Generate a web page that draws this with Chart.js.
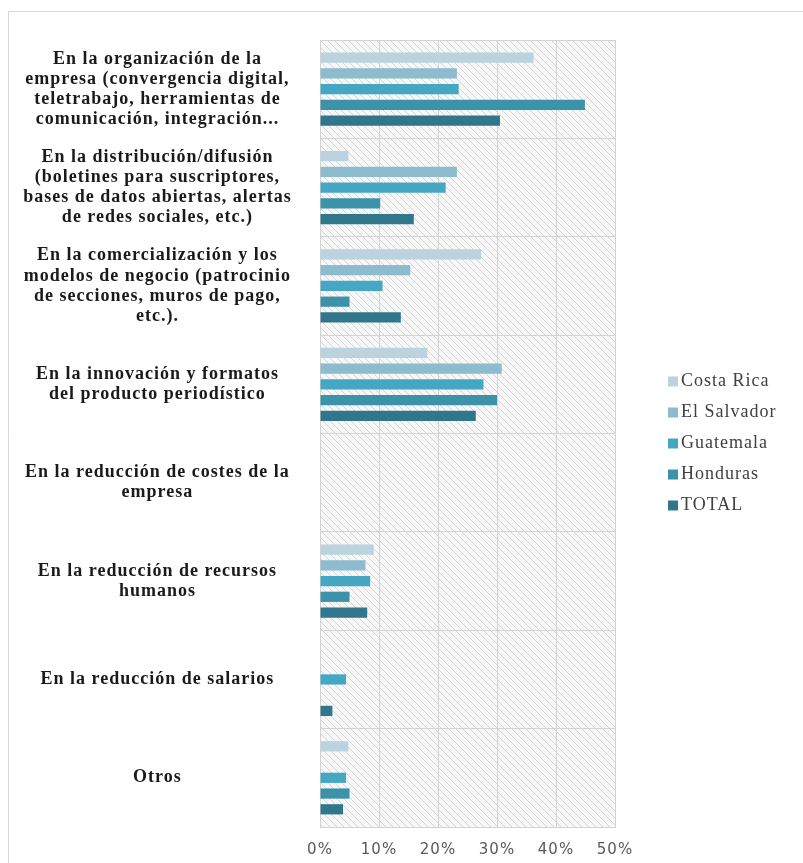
<!DOCTYPE html>
<html lang="es">
<head>
<meta charset="utf-8">
<title>Cambios en la empresa</title>
<script src="https://cdn.jsdelivr.net/npm/chart.js@4/dist/chart.umd.min.js"></script>
<style>
body{margin:0;background:#fff;}
canvas{display:block;}
</style>
</head>
<body>
<canvas id="barChart" width="803" height="863"></canvas>
<script>
// ----------------------------
// Datos
// ----------------------------

const categorias = [
    ["En la organización de la", "empresa (convergencia digital,", "teletrabajo, herramientas de", "comunicación, integración..."],
    ["En la distribución/difusión", "(boletines para suscriptores,", "bases de datos abiertas, alertas", "de redes sociales, etc.)"],
    ["En la comercialización y los", "modelos de negocio (patrocinio", "de secciones, muros de pago,", "etc.)."],
    ["En la innovación y formatos", "del producto periodístico"],
    ["En la reducción de costes de la", "empresa"],
    ["En la reducción de recursos", "humanos"],
    ["En la reducción de salarios"],
    ["Otros"]
];

const paises = ["Costa Rica", "El Salvador", "Guatemala", "Honduras", "TOTAL"];

const costaRica  = [36.2, 4.8, 27.3, 18.2, null, 9.1, null, 4.8];
const elSalvador = [23.2, 23.2, 15.3, 30.8, null, 7.7, null, null];
const guatemala  = [23.5, 21.3, 10.6, 27.7, null, 8.5, 4.4, 4.4];
const honduras   = [44.9, 10.2, 5.0, 30.0, null, 5.0, null, 5.0];
const total      = [30.5, 15.9, 13.7, 26.4, null, 8.0, 2.1, 3.9];

const ticksX = ["0%", "10%", "20%", "30%", "40%", "50%"];

const colores = ["#bad3de", "#8dbccf", "#46a7c4", "#3b92a9", "#30778b"];

const series = [costaRica, elSalvador, guatemala, honduras, total];

// ----------------------------
// Fondo rayado
// ----------------------------

function rayado(ctx){

    const s = 7;
    const c = document.createElement("canvas");
    c.width = s;
    c.height = s;
    const p = c.getContext("2d");
    p.fillStyle = "#f7f7f7";
    p.fillRect(0, 0, s, s);
    p.strokeStyle = "#d6d6d6";
    p.lineWidth = 1;
    p.beginPath();
    for (const x0 of [-s, 0, s]) {
        p.moveTo(x0, 0);
        p.lineTo(x0 + s, s);
    }
    p.stroke();
    return ctx.createPattern(c, "repeat");

}

const fondo = {
    id: "fondo",
    beforeDraw(chart){
        const {ctx, chartArea: a} = chart;
        ctx.save();
        // marco exterior
        ctx.strokeStyle = "#d9d9d9";
        ctx.lineWidth = 1;
        ctx.beginPath();
        ctx.moveTo(8.5, chart.height);
        ctx.lineTo(8.5, 11.5);
        ctx.lineTo(chart.width, 11.5);
        ctx.stroke();
        ctx.fillStyle = rayado(ctx);
        ctx.fillRect(a.left, a.top, a.right - a.left, a.bottom - a.top);
        ctx.restore();
        // texto algo espaciado, como en el original
        ctx.letterSpacing = "1px";
    },
    beforeDatasetsDraw(chart){
        chart.ctx.letterSpacing = "0px";
    }
};

// ----------------------------
// Leyenda
// ----------------------------

const leyenda = {
    id: "leyenda",
    afterDraw(chart){
        const {ctx, chartArea: a} = chart;
        const centro = (a.top + a.bottom) / 2 + 10;
        ctx.save();
        ctx.letterSpacing = "1px";
        ctx.font = "18px 'Liberation Serif'";
        ctx.textBaseline = "middle";
        chart.data.datasets.forEach((ds, i) => {
            const y = centro + (i - 2) * 31;
            ctx.fillStyle = ds.backgroundColor;
            ctx.fillRect(a.right + 53, y - 5, 10, 10);
            ctx.fillStyle = "#404040";
            ctx.fillText(ds.label, a.right + 66, y);
        });
        ctx.restore();
    }
};

// ----------------------------
// Grafico de barras
// ----------------------------

new Chart(

document.getElementById("barChart"),

{

type: "bar",

data: {

labels: categorias,

datasets: paises.map((p, i) => ({
    label: p,
    data: series[i],
    backgroundColor: colores[i],
    categoryPercentage: 0.8,
    barPercentage: 0.65
}))

},

options: {

indexAxis: "y",

responsive: false,

animation: false,

layout: {
    padding: {left: 10, right: 188, top: 40, bottom: 0}
},

plugins: {
    legend: {display: false},
    tooltip: {enabled: false}
},

scales: {

x: {
    min: 0,
    max: 50,
    ticks: {
        stepSize: 10,
        padding: 14,
        color: "#595959",
        font: {family: "'DejaVu Sans'", size: 15},
        callback: (v, i) => ticksX[i]
    },
    grid: {color: "#d4d4d4", drawTicks: false},
    border: {color: "#d4d4d4"},
    afterFit: (axis) => { axis.height = 36; }
},

y: {
    ticks: {
        crossAlign: "center",
        padding: 44,
        color: "#1a1a1a",
        font: {family: "'Liberation Serif'", size: 18, weight: "bold", lineHeight: 1.12}
    },
    grid: {color: "#d4d4d4", drawTicks: false},
    border: {color: "#d4d4d4"},
    afterFit: (axis) => {
        axis.width = 310;
        axis.paddingTop = 0;
        axis.paddingBottom = 0;
    }
}

}

},

plugins: [fondo, leyenda]

}

);
</script>
</body>
</html>
